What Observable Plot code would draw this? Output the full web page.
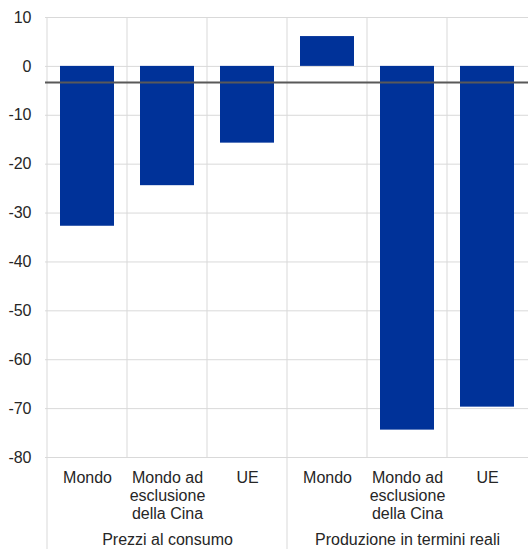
<!DOCTYPE html>
<html><head><meta charset="utf-8">
<script src="https://cdn.jsdelivr.net/npm/d3@7"></script>
<script src="https://cdn.jsdelivr.net/npm/@observablehq/plot@0.6"></script>
<style>
body{margin:0;background:#fff;font-family:"Liberation Sans",Arial,sans-serif;}
</style></head><body>
<div id="chart"></div>
<script>
const categoryIds = ["p1","p2","p3","q1","q2","q3"];
const categoryLabels = ["Mondo","Mondo ad\nesclusione\ndella Cina","UE","Mondo","Mondo ad\nesclusione\ndella Cina","UE"];
const groups = ["Prezzi al consumo","Produzione in termini reali"];
const groupOf = ["Prezzi al consumo","Prezzi al consumo","Prezzi al consumo","Produzione in termini reali","Produzione in termini reali","Produzione in termini reali"];
const values = [-32.7, -24.4, -15.7, 6.1, -74.4, -69.7];
const refLine = -3.3;
const yTicks = [10,0,-10,-20,-30,-40,-50,-60,-70,-80];

const data = categoryIds.map((id,i)=>({id, label: categoryLabels[i], group: groupOf[i], value: values[i]}));
const labelOf = Object.fromEntries(categoryIds.map((id,i)=>[id, categoryLabels[i]]));
const groupCenters = [{id:"p2", name:groups[0]},{id:"q2", name:groups[1]}];

const plot = Plot.plot({
  width: 528, height: 549,
  marginLeft: 45, marginRight: 0, marginTop: 17, marginBottom: 92,
  style: {fontFamily: '"Liberation Sans", Arial, sans-serif', fontSize: "16px", color: "#262626", background: "#fff"},
  x: {domain: categoryIds, paddingInner: 0.33, paddingOuter: 0.165, axis: null},
  y: {domain: [-80, 10], axis: null},
  marks: [
    Plot.ruleY(yTicks, {stroke: "#d9d9d9", strokeWidth: 1}),
    Plot.barY(data, {x: "id", y: "value", fill: "#003299"}),
    Plot.ruleY([refLine], {stroke: "#595959", strokeWidth: 2}),
    Plot.axisY({ticks: yTicks, label: null, tickSize: 0, tickPadding: 14, fontSize: 16, fill: "#262626", tickFormat: d => String(d)}),
    Plot.axisX({label: null, tickSize: 0, tickPadding: 13, fontSize: 16, fill: "#262626", lineHeight: 1.125, tickFormat: d => labelOf[d]}),
    Plot.text(groupCenters, {x: "id", y: () => -80, text: "name", dy: 82, fontSize: 16, fill: "#262626"})
  ]
});

// vertical separators at band boundaries
const xs = plot.scale("x");
const ys = plot.scale("y");
const svg = d3.select(plot);
const step = xs.step, bw = xs.bandwidth;
const yTop = ys.apply(10), yBottom = ys.apply(-80);
const gSep = svg.insert("g", "g");
categoryIds.forEach((id,i)=>{
  const xb = xs.apply(id) - (step - bw)/2;
  const isGroupEdge = i === 0 || groupOf[i] !== groupOf[i-1];
  gSep.append("line").attr("x1", xb).attr("x2", xb).attr("y1", yTop)
    .attr("y2", isGroupEdge ? 549 : yBottom).attr("stroke", "#d9d9d9").attr("stroke-width", 1);
});
document.getElementById("chart").appendChild(plot);
</script>
</body></html>
